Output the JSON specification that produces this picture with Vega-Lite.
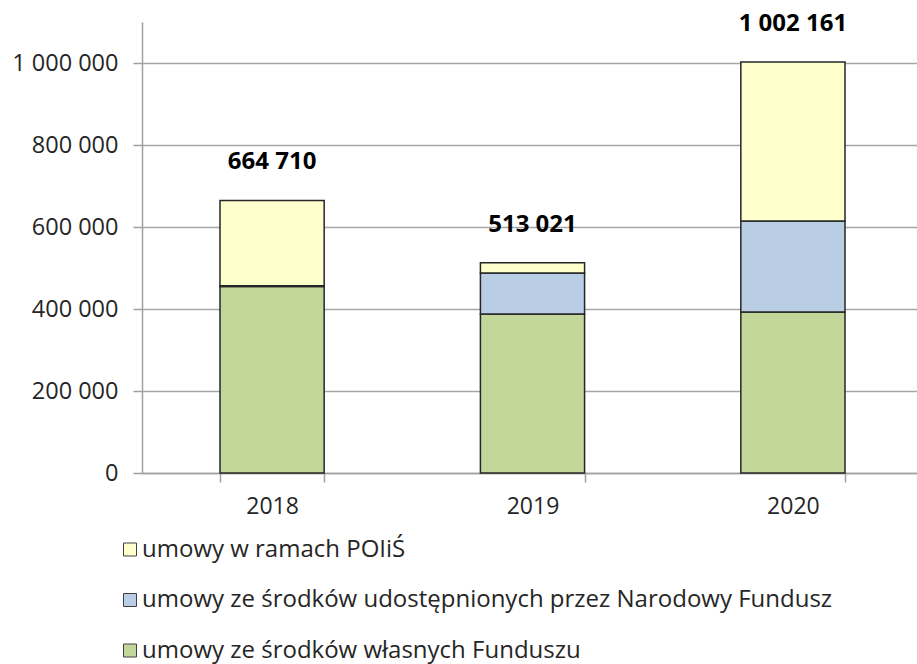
{
  "$schema": "https://vega.github.io/schema/vega-lite/v6.json",
  "width": 775,
  "height": 451,
  "autosize": "none",
  "padding": {"left": 142, "top": 22, "right": 0, "bottom": 191},
  "background": "white",
  "config": {
    "locale": {"number": {"decimal": ",", "thousands": " ", "grouping": [3], "currency": ["", ""]}},
    "view": {"stroke": null},
    "font": "Open Sans"
  },
  "data": {
    "values": [
      {"rok": "2018", "kat": "umowy ze środków własnych Funduszu", "v": 455000},
      {"rok": "2018", "kat": "umowy ze środków udostępnionych przez Narodowy Fundusz", "v": 2000},
      {"rok": "2018", "kat": "umowy w ramach POIiŚ", "v": 207710},
      {"rok": "2019", "kat": "umowy ze środków własnych Funduszu", "v": 387800},
      {"rok": "2019", "kat": "umowy ze środków udostępnionych przez Narodowy Fundusz", "v": 100000},
      {"rok": "2019", "kat": "umowy w ramach POIiŚ", "v": 25221},
      {"rok": "2020", "kat": "umowy ze środków własnych Funduszu", "v": 392700},
      {"rok": "2020", "kat": "umowy ze środków udostępnionych przez Narodowy Fundusz", "v": 222000},
      {"rok": "2020", "kat": "umowy w ramach POIiŚ", "v": 387461}
    ]
  },
  "transform": [
    {"calculate": "indexof(['umowy ze środków własnych Funduszu','umowy ze środków udostępnionych przez Narodowy Fundusz','umowy w ramach POIiŚ'], datum.kat)", "as": "kolejnosc"}
  ],
  "encoding": {
    "x": {
      "field": "rok", "type": "nominal",
      "scale": {"paddingInner": 0.6, "paddingOuter": 0.288, "align": 0.52},
      "axis": {
        "title": null, "labelAngle": 0, "labelFontSize": 23, "labelColor": "#262626",
        "labelPadding": 13, "tickBand": "extent", "tickSize": 9, "tickColor": "#a0a0a0",
        "tickWidth": 1.5, "domainColor": "#a0a0a0", "domainWidth": 1.5, "grid": false
      }
    }
  },
  "layer": [
    {
      "mark": {"type": "bar", "stroke": "#262626", "strokeWidth": 1.5},
      "encoding": {
        "y": {
          "field": "v", "type": "quantitative", "stack": "zero",
          "scale": {"domain": [0, 1100000], "nice": false},
          "axis": {
            "title": null, "values": [0, 200000, 400000, 600000, 800000, 1000000],
            "format": ",d", "labelFontSize": 23.5, "labelColor": "#262626",
            "labelPadding": 15, "tickSize": 9, "tickColor": "#a0a0a0", "tickWidth": 1.5,
            "domainColor": "#a0a0a0", "domainWidth": 1.5,
            "grid": true, "gridColor": "#a6a6a6", "gridWidth": 1.5
          }
        },
        "color": {
          "field": "kat", "type": "nominal",
          "scale": {
            "domain": ["umowy w ramach POIiŚ", "umowy ze środków udostępnionych przez Narodowy Fundusz", "umowy ze środków własnych Funduszu"],
            "range": ["#ffffcc", "#b9cde5", "#c4d79b"]
          },
          "legend": {
            "title": null, "orient": "none", "legendX": -24, "legendY": 515.5,
            "direction": "vertical", "symbolType": "square", "symbolSize": 169,
            "symbolStrokeColor": "#404040", "symbolStrokeWidth": 1,
            "labelFontSize": 24, "labelColor": "#262626", "labelOffset": 0,
            "rowPadding": 26.5, "padding": 0, "labelLimit": 900
          }
        },
        "order": {"field": "kolejnosc", "type": "quantitative"}
      }
    },
    {
      "mark": {"type": "text", "dy": -38, "fontSize": 24, "fontWeight": "bold", "color": "#000000"},
      "encoding": {
        "y": {"aggregate": "sum", "field": "v", "type": "quantitative"},
        "text": {"aggregate": "sum", "field": "v", "type": "quantitative", "format": ",d"}
      }
    }
  ]
}
